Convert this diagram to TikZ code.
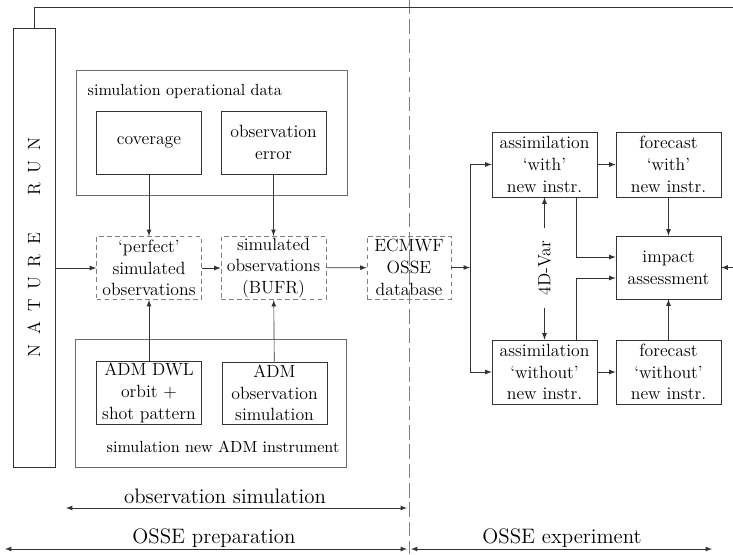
\documentclass[tikz,border=0pt]{standalone}
\usetikzlibrary{arrows}

\newcommand\px{0.6211pt}
\newcommand\boxfont{\fontsize{11}{13.5}\selectfont}
\newcommand\spanfont{\fontsize{13}{15}\selectfont}

\tikzset{
    box/.style={draw=black!80, minimum width=105*\px, minimum height=63*\px,
        align=center, inner sep=1pt, font=\boxfont},
    simbox/.style={box, draw=gray, dash pattern=on 3pt off 2pt},
    group/.style={draw=gray!85!black, line width=0.6pt, minimum width=271*\px},
    conn/.style={->, >=latex, draw=black!80},
    span/.style={<->, >=latex, draw=black!80},
}

\begin{document}
\begin{tikzpicture}[x=\px, y=-\px]
    \useasboundingbox (0,0) rectangle (733,554);

    \draw[gray, dash pattern=on 9pt off 3pt] (409,0) coordinate (divtop) -- (409,554) coordinate (divbot);

    \node[draw=black!80, minimum width=42*\px, minimum height=439*\px] (nr) at (34,247.5) {};
    \node[rotate=90, font=\boxfont] (nrtext) at (nr) {N\hspace{6pt}A\hspace{6pt}T\hspace{6pt}U\hspace{6pt}R\hspace{6pt}E\hspace{23pt}R\hspace{6pt}U\hspace{6pt}N};

    \node[group, minimum height=125*\px] (opd) at (211.5,132.5) {};
    \node[anchor=west] (opdlbl) at (82,91) {simulation operational data};
    \node[box] (cov) at (149,142.5) {coverage};
    \node[box] (oerr) at (273.5,142.5) {observation\\error};

    \node[simbox] (perf) at (149,268) {`perfect'\\simulated\\observations};
    \node[simbox] (sobs) at (273.5,268) {simulated\\observations\\(BUFR)};
    \node[simbox, minimum width=84*\px] (db) at (409,267.5) {ECMWF\\OSSE\\database};

    \node[group, minimum height=128*\px] (adm) at (211,403) {};
    \node[anchor=west] (admlbl) at (101,447) {simulation new ADM instrument};
    \node[box, minimum height=62*\px] (dwl) at (149,393) {ADM DWL\\orbit +\\shot pattern};
    \node[box, minimum height=62*\px] (admobs) at (274.5,393) {ADM\\observation\\simulation};

    \node[box, minimum height=65*\px] (aw) at (544.5,164.5) {assimilation\\`with'\\new instr.};
    \node[box, minimum height=65*\px] (fw) at (668.5,164.5) {forecast\\`with'\\new instr.};
    \node[box] (ia) at (668.5,267.5) {impact\\assessment};
    \node[box, minimum height=64*\px] (awo) at (544.5,372) {assimilation\\`without'\\new instr.};
    \node[box, minimum height=64*\px] (fwo) at (668.5,372) {forecast\\`without'\\new instr.};
    \node[rotate=90, inner xsep=12*\px, font=\boxfont] (var) at (544.5,268) {4D-Var};

    \coordinate (jn) at (470,267.5);
    \coordinate (corner) at (745,7);

    \draw[conn] (perf.west -| nr.east) -- (perf.west);
    \draw[conn] (perf) -- (sobs);
    \draw[conn] (sobs) -- (db);
    \draw[conn] (cov) -- (perf);
    \draw[conn] (oerr) -- (sobs);
    \draw[conn] (dwl) -- (perf);
    \draw[conn] (admobs) -- (sobs);

    \draw[conn] (db) -- (jn);
    \draw[conn] (jn) |- (aw.west);
    \draw[conn] (jn) |- (awo.west);
    \draw[conn] (aw) -- (fw);
    \draw[conn] (awo) -- (fwo);
    \draw[conn] (fw) -- (ia);
    \draw[conn] (fwo) -- (ia);
    \draw[conn] ([xshift=32*\px]aw.south) |- ([yshift=10.5*\px]ia.west);
    \draw[conn] ([xshift=32*\px]awo.north) |- ([yshift=-10.5*\px]ia.west);
    \draw[conn] (var.east) -- (aw.south);
    \draw[conn] (var.west) -- (awo.north);

    \draw[conn] (nr.north) |- (corner) |- (ia.east);

    \coordinate (obsL) at (66,508);
    \coordinate (obsR) at (407,508);
    \coordinate (prepL) at (5,549);
    \coordinate (prepR) at (407,549);
    \coordinate (expL) at (411,549);
    \coordinate (expR) at (712,549);
    \draw[span] (obsL) -- (obsR);
    \draw[span] (prepL) -- (prepR);
    \draw[span] (expL) -- (expR);
    \node[font=\spanfont] (obslbl) at (225,496) {observation simulation};
    \node[font=\spanfont] (preplbl) at (214,538) {OSSE preparation};
    \node[font=\spanfont] (explbl) at (562,538) {OSSE experiment};
\end{tikzpicture}
\end{document}
